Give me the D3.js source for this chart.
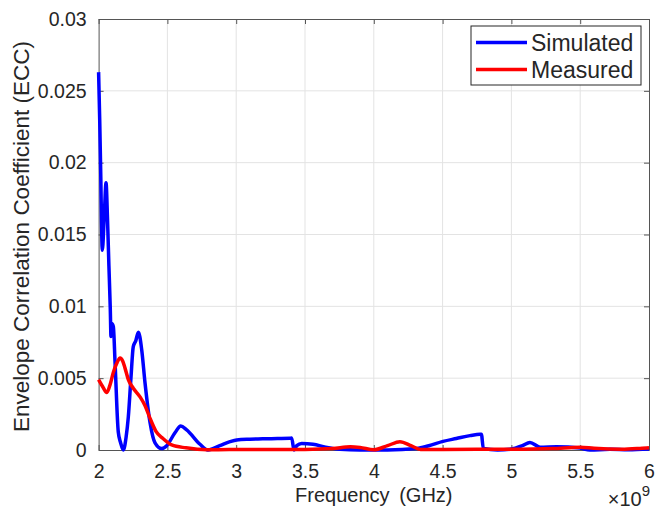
<!DOCTYPE html>
<html>
<head>
<meta charset="utf-8">
<script src="https://cdn.jsdelivr.net/npm/d3@7"></script>
<style>
  body { margin: 0; background: #fff; }
  text { font-family: "Liberation Sans", Arial, sans-serif; fill: #262626; }
</style>
</head>
<body>
<div id="chart"></div>
<script>
// frequency in GHz, ECC values
var simFreq = [2.0, 2.008, 2.015, 2.027, 2.04, 2.054, 2.065, 2.075, 2.085, 2.09, 2.095, 2.107, 2.12, 2.143, 2.16, 2.18,
               2.2, 2.216, 2.235, 2.252, 2.27, 2.289, 2.313, 2.337, 2.374, 2.41, 2.459, 2.495, 2.555, 2.597, 2.64,
               2.737, 2.795, 2.88, 2.955, 3.004, 3.1, 3.2, 3.3, 3.391, 3.403, 3.42, 3.44, 3.476, 3.558, 3.65, 3.754,
               3.9, 4.1, 4.312, 4.4, 4.503, 4.6, 4.699, 4.772, 4.782, 4.796, 4.9, 4.99, 5.08, 5.135, 5.208, 5.329,
               5.498, 5.57, 5.716, 5.85, 6.0];
var simECC = [0.0263, 0.023, 0.0195, 0.0139, 0.016, 0.0186, 0.016, 0.0128, 0.0098, 0.0079, 0.0088, 0.0086, 0.006, 0.00125, 0.0005, 0.0,
              0.0009, 0.0023, 0.005, 0.0072, 0.0076, 0.0082, 0.007, 0.0047, 0.0019, 0.0005, 0.0001, 0.0003, 0.0012, 0.00167, 0.0014,
              0.0004, 0.0, 0.0003, 0.00058, 0.0007, 0.00075, 0.00078, 0.0008, 0.00082, 0.00084, 0.0, 0.0003, 0.00045, 0.0004, 0.0002, 0.00005,
              0.0, 0.0, 0.0001, 0.0003, 0.0006, 0.0008, 0.001, 0.0011, 0.0011, 0.0001, 0.0, 0.00005, 0.0003, 0.00053, 0.0002, 0.00023,
              0.00014, 0.0, 0.00005, 0.00002, 0.00007];

var measFreq = [2.0, 2.03, 2.06, 2.085, 2.107, 2.135, 2.156, 2.175, 2.192, 2.216, 2.252, 2.301, 2.337, 2.374, 2.417, 2.468,
                2.531, 2.635, 2.788, 2.95, 3.2, 3.5, 3.7, 3.83, 3.9, 4.0, 4.1, 4.19, 4.27, 4.34, 4.5, 5.0, 5.3, 5.5,
                5.6, 5.8, 5.95, 6.0];
var measECC = [0.0049, 0.0044, 0.0040, 0.0046, 0.0054, 0.0061, 0.0064, 0.0062, 0.0057, 0.0049, 0.0043, 0.0037, 0.0031, 0.0022, 0.0013, 0.0008,
               0.00035, 0.00015, 0.00002, 0.00003, 0.00003, 0.00004, 0.0001, 0.00023, 0.00018, 0.00002, 0.0003, 0.00058, 0.0003, 0.00003, 0.00004, 0.00005, 0.0001, 0.0002,
               0.00012, 0.00005, 0.00012, 0.00015];

var xTicks = [2, 2.5, 3, 3.5, 4, 4.5, 5, 5.5, 6];
var yTicks = [0, 0.005, 0.01, 0.015, 0.02, 0.025, 0.03];
var seriesNames = ["Simulated", "Measured"];
var seriesColors = ["#0000ff", "#ff0000"];

var width = 655, height = 511;
var margin = {top: 19, right: 6, bottom: 61, left: 98.6};

var svg = d3.select("#chart").append("svg")
    .attr("width", width)
    .attr("height", height);

var x = d3.scaleLinear().domain([2, 6]).range([margin.left, width - margin.right]);
var y = d3.scaleLinear().domain([0, 0.03]).range([height - margin.bottom, margin.top]);

//grid lines
svg.append("g").selectAll("line.vg")
    .data(xTicks.slice(1, -1))
    .enter().append("line")
    .attr("x1", d => x(d)).attr("x2", d => x(d))
    .attr("y1", y(0)).attr("y2", y(0.03))
    .attr("stroke", "#e3e3e3").attr("stroke-width", 1);

svg.append("g").selectAll("line.hg")
    .data(yTicks.slice(1, -1))
    .enter().append("line")
    .attr("x1", x(2)).attr("x2", x(6))
    .attr("y1", d => y(d)).attr("y2", d => y(d))
    .attr("stroke", "#e3e3e3").attr("stroke-width", 1);

//axes with inward ticks
var fmtX = d => d3.format("~g")(d);
var fmtY = d => d === 0 ? "0" : d3.format("~g")(d);

svg.append("g")
    .attr("transform", "translate(0," + y(0) + ")")
    .call(d3.axisBottom(x).tickValues(xTicks).tickFormat(fmtX).tickSizeInner(-5).tickSizeOuter(0).tickPadding(14));
svg.append("g")
    .attr("transform", "translate(" + x(2) + ",0)")
    .call(d3.axisLeft(y).tickValues(yTicks).tickFormat(fmtY).tickSizeInner(-5).tickSizeOuter(0).tickPadding(12));
svg.append("g")
    .attr("transform", "translate(0," + y(0.03) + ")")
    .call(d3.axisTop(x).tickValues(xTicks).tickFormat("").tickSizeInner(-5).tickSizeOuter(0));
svg.append("g")
    .attr("transform", "translate(" + x(6) + ",0)")
    .call(d3.axisRight(y).tickValues(yTicks).tickFormat("").tickSizeInner(-5).tickSizeOuter(0));

svg.selectAll(".domain").attr("stroke", "#555").attr("stroke-width", 1);
svg.selectAll(".tick line").attr("stroke", "#555");
svg.selectAll(".tick text").style("font-size", "19.5px").style("font-family", "Liberation Sans, Arial, sans-serif").attr("fill", "#262626");

//data lines
var line = d3.line()
    .x(d => x(d[0]))
    .y(d => y(d[1]))
    .curve(d3.curveMonotoneX);

var simData = d3.zip(simFreq, simECC);
var measData = d3.zip(measFreq, measECC);

svg.append("path")
    .datum(simData)
    .attr("d", line)
    .attr("fill", "none")
    .attr("stroke", seriesColors[0])
    .attr("stroke-width", 3.5)
    .attr("stroke-linejoin", "round");

svg.append("path")
    .datum(measData)
    .attr("d", line)
    .attr("fill", "none")
    .attr("stroke", seriesColors[1])
    .attr("stroke-width", 3.5)
    .attr("stroke-linejoin", "round");

//axis labels
svg.append("text")
    .attr("x", (x(2) + x(6)) / 2)
    .attr("y", 502)
    .attr("text-anchor", "middle")
    .style("font-size", "20px")
    .style("word-spacing", "4px")
    .text("Frequency (GHz)");

svg.append("text")
    .attr("transform", "translate(29," + ((y(0) + y(0.03)) / 2 + 2) + ") rotate(-90)")
    .attr("text-anchor", "middle")
    .style("font-size", "22.5px")
    .text("Envelope Correlation Coefficient (ECC)");

var expo = svg.append("text")
    .attr("x", 650)
    .attr("y", 506)
    .attr("text-anchor", "end")
    .style("font-size", "20px");
expo.append("tspan").text("\u00d710");
expo.append("tspan").attr("dy", -10).style("font-size", "15px").text("9");

//legend
var legend = svg.append("g").attr("transform", "translate(471,26)");
legend.append("rect")
    .attr("width", 170).attr("height", 59)
    .attr("fill", "#fff")
    .attr("stroke", "#262626").attr("stroke-width", 1);

seriesNames.forEach(function(name, i) {
    legend.append("line")
        .attr("x1", 5).attr("x2", 56)
        .attr("y1", 16.5 + i * 27).attr("y2", 16.5 + i * 27)
        .attr("stroke", seriesColors[i]).attr("stroke-width", 3.5);
    legend.append("text")
        .attr("x", 60)
        .attr("y", 24.5 + i * 27)
        .style("font-size", "23px")
        .attr("fill", "#111")
        .text(name);
});
</script>
</body>
</html>
